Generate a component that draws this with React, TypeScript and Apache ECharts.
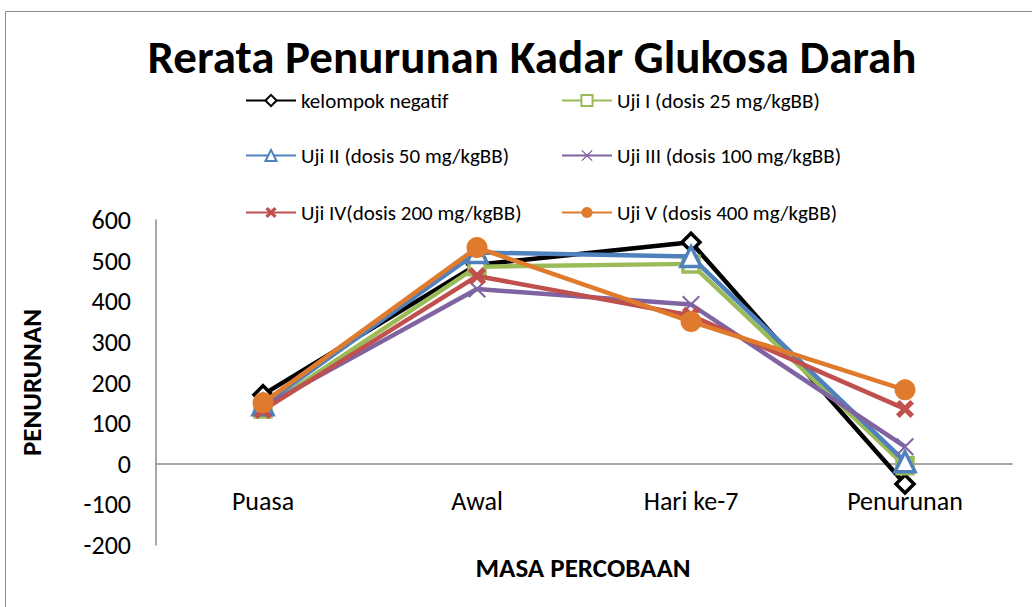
import React, { useEffect, useRef } from "react";
import * as echarts from "echarts";

const categories = ["Puasa", "Awal", "Hari ke-7", "Penurunan"];
const seriesNames = [
  "kelompok negatif",
  "Uji I (dosis 25 mg/kgBB)",
  "Uji II (dosis 50 mg/kgBB)",
  "Uji III (dosis 100 mg/kgBB)",
  "Uji IV(dosis 200 mg/kgBB)",
  "Uji V (dosis 400 mg/kgBB)",
];
const negatif = [170, 490, 545, -50];
const uji1 = [135, 485, 492, -5];
const uji2 = [145, 520, 510, 5];
const uji3 = [140, 430, 392, 42];
const uji4 = [132, 462, 365, 135];
const uji5 = [150, 532, 350, 182];
const yTicks = { min: -200, max: 600, interval: 100 };

const FONT = "Carlito, 'Open Sans', sans-serif";
const thickX = "path://M0,2 L2,0 L5,3 L8,0 L10,2 L7,5 L10,8 L8,10 L5,7 L2,10 L0,8 L3,5 Z";
const thinX = "path://M0,0.8 L0.8,0 L5,4.2 L9.2,0 L10,0.8 L5.8,5 L10,9.2 L9.2,10 L5,5.8 L0.8,10 L0,9.2 L4.2,5 Z";

export default function App() {
  const ref = useRef<HTMLDivElement>(null);
  useEffect(() => {
    const chart = echarts.init(ref.current!, null, { renderer: "svg" });
    const datas = [negatif, uji1, uji2, uji3, uji4, uji5];
    const colors = ["#000000", "#9bbb59", "#4f81bd", "#8064a2", "#c0504d", "#e07b2e"];
    const symbols = ["diamond", "rect", "triangle", thinX, thickX, "circle"];
    const sizes = [18, 16, 20, 18, 18, 21];
    const hollow = [true, true, true, false, false, false];
    const legendPos = [
      [240, 85], [556, 85], [240, 140], [556, 140], [240, 197], [556, 197],
    ];
    chart.setOption({
      animation: false,
      backgroundColor: "#ffffff",
      title: {
        text: "Rerata Penurunan Kadar Glukosa Darah",
        left: 527,
        top: 32,
        textAlign: "center",
        textStyle: { fontFamily: FONT, fontSize: 47, lineHeight: 40, fontWeight: "bold", color: "#000" },
      },
      legend: seriesNames.map((n, i) => ({
        data: [n],
        left: legendPos[i][0],
        top: legendPos[i][1],
        itemWidth: 50,
        itemHeight: 14,
        itemGap: 5,
        textStyle: { fontFamily: FONT, fontSize: 21, lineHeight: 18, color: "#000" },
      })),
      grid: { left: 156, right: 20, top: 220, bottom: 62 },
      xAxis: {
        type: "category",
        data: categories,
        boundaryGap: true,
        offset: -81.25,
        axisLine: { onZero: false, lineStyle: { color: "#8c8c8c", width: 1.5 } },
        axisTick: { show: false },
        axisLabel: { fontFamily: FONT, fontSize: 26, color: "#000", margin: 24 },
      },
      yAxis: {
        type: "value",
        min: yTicks.min,
        max: yTicks.max,
        interval: yTicks.interval,
        splitLine: { show: false },
        axisLine: { show: true, lineStyle: { color: "#8c8c8c", width: 1.5 } },
        axisTick: { show: false },
        axisLabel: { fontFamily: FONT, fontSize: 26, color: "#000", margin: 25 },
        name: "PENURUNAN",
        nameLocation: "middle",
        nameGap: 111,
        nameTextStyle: { fontFamily: FONT, fontSize: 27, fontWeight: "bold", color: "#000" },
      },
      graphic: [
        {
          type: "rect",
          shape: { x: 5.5, y: 11.5, width: 1040, height: 620 },
          style: { fill: "none", stroke: "#8c8c8c", lineWidth: 1 },
          silent: true,
          z: -1,
        },
        {
          type: "text",
          style: {
            text: "MASA PERCOBAAN",
            x: 583,
            y: 567,
            textAlign: "center",
            textVerticalAlign: "middle",
            fontFamily: FONT,
            fontSize: 27,
            fontWeight: "bold",
            fill: "#000",
          },
        },
      ],
      series: datas.map((d, i) => ({
        name: seriesNames[i],
        type: "line",
        data: d,
        symbol: symbols[i],
        symbolSize: sizes[i],
        showAllSymbol: true,
        lineStyle: { color: colors[i], width: 4.5 },
        itemStyle: hollow[i]
          ? { color: "#ffffff", borderColor: colors[i], borderWidth: 3.5 }
          : { color: colors[i], borderColor: colors[i], borderWidth: 0 },
        z: 2 + i,
      })),
    });
    return () => chart.dispose();
  }, []);
  return (
    <div
      ref={ref}
      style={{ position: "fixed", left: 0, top: 0, width: 1032, height: 607 }}
    />
  );
}
